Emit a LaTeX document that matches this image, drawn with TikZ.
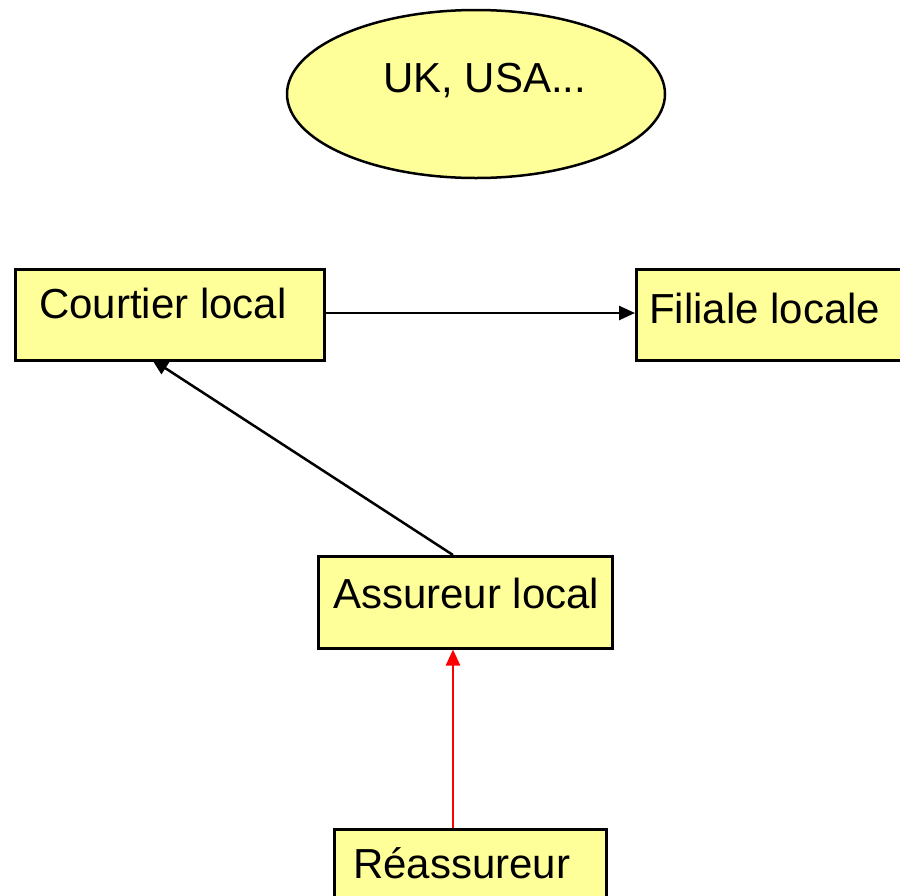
\documentclass[tikz,border=0pt]{standalone}
\usepackage{fontspec}
\setmainfont{Liberation Sans}
\usetikzlibrary{arrows.meta,shapes.geometric}
\definecolor{boxfill}{HTML}{FFFF99}
\tikzset{
  box/.style={draw=black, line width=2.5pt, fill=boxfill, rectangle, inner sep=0pt, anchor=north west},
  oval/.style={draw=black, line width=2.5pt, fill=boxfill, ellipse, inner sep=0pt},
  lbl/.style={font=\fontsize{42}{50}\selectfont, inner sep=0pt, anchor=base west},
  conn/.style={line width=2.5pt, -{Triangle[length=16pt,width=14pt]}},
}
\begin{document}
\begin{tikzpicture}[x=1pt,y=-1pt]
\useasboundingbox (0,0) rectangle (900,895);
\node[oval, minimum width=378pt, minimum height=168pt] (uk) at (476,94) {};
\node[lbl] (ukt) at (383,92) {UK, USA...};
\node[box, minimum width=309pt, minimum height=91pt] (courtier) at (14,268) {};
\node[lbl] (courtiert) at (39,318) {Courtier local};
\node[box, minimum width=280pt, minimum height=91pt] (filiale) at (635,268) {};
\node[lbl] (filialet) at (649,323) {Filiale locale};
\node[box, minimum width=294pt, minimum height=92pt] (assureur) at (317,555) {};
\node[lbl] (assureurt) at (333,608) {Assureur local};
\node[box, minimum width=272pt, minimum height=90pt] (reass) at (333,828) {};
\node[lbl] (reasst) at (353,878) {Réassureur};
\draw[conn] (courtier.east |- 0,313) -- (filiale.west |- 0,313);
\draw[conn] (assureur.north -| 453,0) -- (152,359.5);
\draw[conn, red] (reass.north -| 453,0) -- (assureur.south -| 453,0);
\end{tikzpicture}
\end{document}
